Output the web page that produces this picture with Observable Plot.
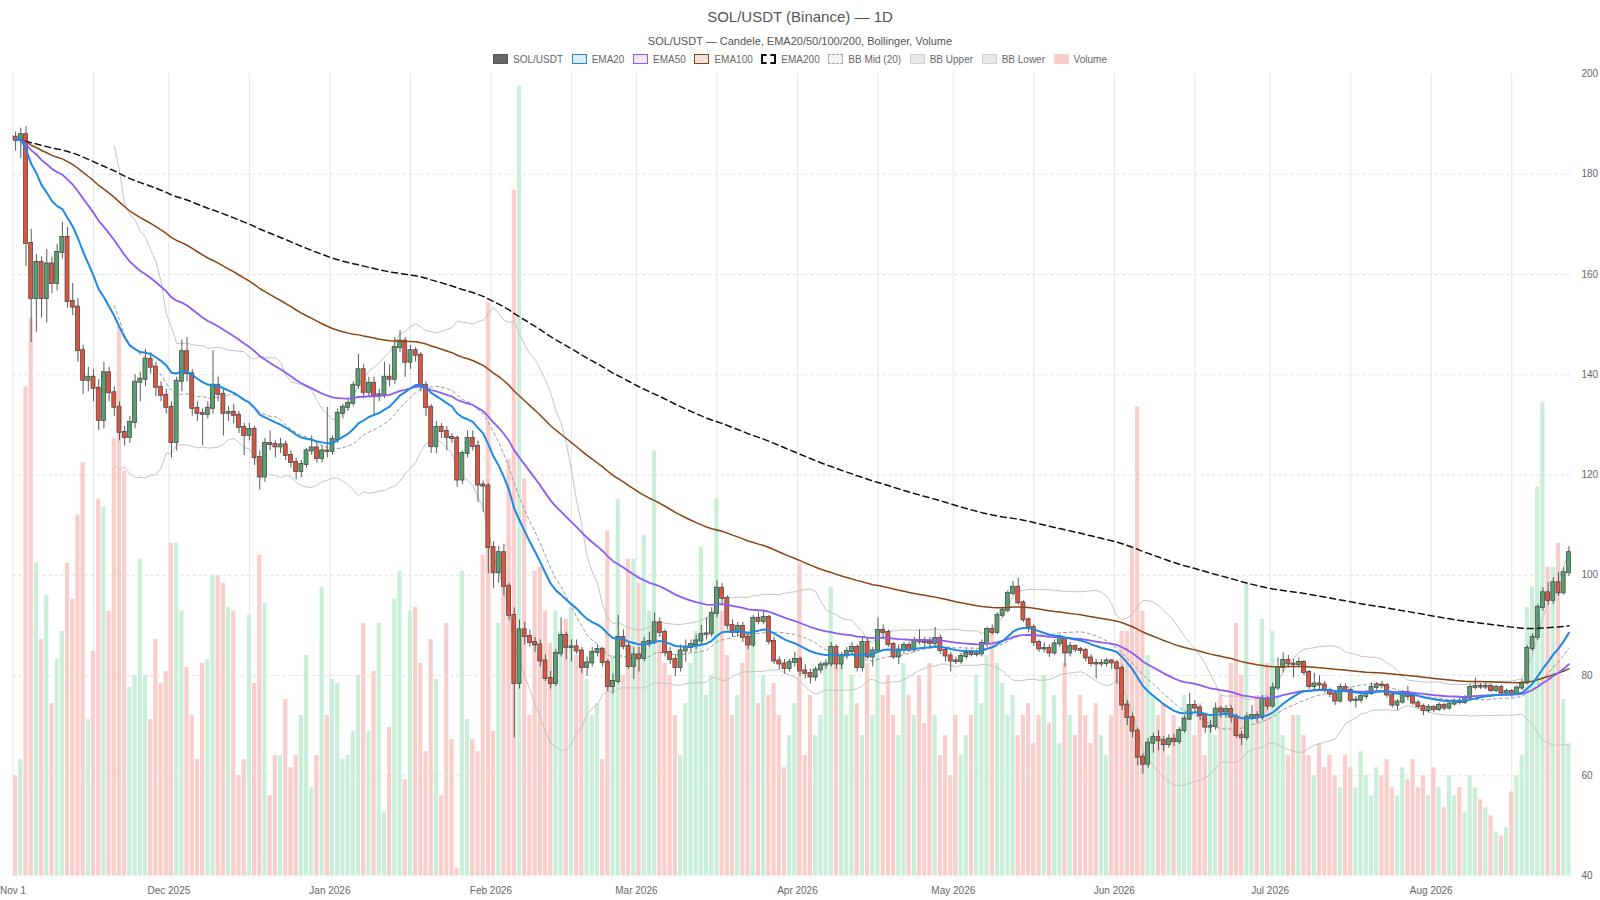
<!DOCTYPE html>
<html><head><meta charset="utf-8">
<script src="https://cdn.jsdelivr.net/npm/d3@7"></script>
<script src="https://cdn.jsdelivr.net/npm/@observablehq/plot@0.6"></script>
<style>
html,body{margin:0;padding:0;background:#fff;}
body{width:1600px;height:900px;position:relative;overflow:hidden;font-family:"Liberation Sans",Arial,Helvetica,sans-serif;}
#title{position:absolute;left:0;top:8px;width:1600px;text-align:center;font-size:15px;line-height:18px;color:#555;}
#subtitle{position:absolute;left:0;top:34px;width:1600px;text-align:center;font-size:11px;line-height:14px;color:#555;}
#legend{position:absolute;left:0;top:52px;width:1600px;height:14px;display:flex;justify-content:center;align-items:center;font-size:10px;color:#666;}
.item{display:flex;align-items:center;margin:0 4.3px;white-space:nowrap;}
.sw{width:15px;height:10px;box-sizing:border-box;margin-right:5px;}
#chart{position:absolute;left:0;top:66px;width:1600px;height:834px;}
#chart svg{position:absolute;left:0;top:0;}
</style></head><body>
<div id="title">SOL/USDT (Binance) — 1D</div>
<div id="subtitle">SOL/USDT — Candele, EMA20/50/100/200, Bollinger, Volume</div>
<div id="legend"></div>
<div id="chart"></div>
<script>
// ---- data: daily candles from 2025-11-01 ----
const startDate = "2025-11-01";
const open = [
187.4,186.8,187.9,166.2,155.2,162.4,155.2,162.1,158.2,164.4,
167.4,154.6,153.5,144.8,138.9,139.5,137.3,130.9,140.4,136.4,
133.5,128.5,127.5,130.5,138.5,139.1,143.1,141.5,137.5,135.9,
133.5,126.5,138.7,144.6,140.2,133.3,132.3,132.1,133.3,137.9,
136.1,132.3,132.5,131.9,129.5,127.9,129.1,123.5,119.6,126.3,
126.1,125.6,126.0,123.9,122.5,120.7,122.1,124.8,125.4,123.3,
124.8,124.7,127.1,132.3,133.5,134.3,137.9,141.0,136.5,138.3,
135.9,136.0,139.5,139.1,145.4,146.7,142.5,144.8,143.9,137.9,
133.5,125.7,129.5,128.7,127.5,127.3,119.0,124.3,127.3,125.7,
118.0,117.8,105.5,100.5,104.5,97.8,92.0,78.4,89.1,87.8,
86.6,86.1,82.9,79.4,78.4,84.4,88.0,85.6,85.7,84.9,
81.6,82.5,84.6,85.2,82.6,77.8,78.8,87.6,85.8,81.8,
84.1,83.4,86.6,86.8,90.5,88.6,84.6,83.2,81.6,84.9,
85.6,86.2,86.9,88.2,88.3,92.4,97.4,95.4,90.0,88.6,
89.8,87.6,86.1,91.4,90.8,91.6,86.8,82.9,82.3,81.4,
82.6,83.2,80.9,80.4,79.7,81.1,82.1,82.3,85.6,82.3,
83.9,84.8,85.6,81.6,86.6,83.7,84.9,89.0,88.6,86.2,
83.7,85.1,86.0,85.1,87.0,86.7,86.6,86.4,87.4,85.0,
83.9,82.9,82.8,83.8,84.4,84.2,84.3,86.4,89.2,88.6,
92.0,93.0,96.4,97.6,94.5,91.1,89.6,86.6,85.3,85.4,
84.5,86.3,87.4,84.5,85.8,85.2,85.0,83.5,82.4,82.3,
82.4,82.9,82.5,81.4,74.1,71.6,68.9,63.7,62.3,66.5,
67.6,67.0,66.2,67.3,66.8,69.0,71.3,74.0,73.5,72.0,
69.7,69.8,73.3,72.7,73.2,71.7,68.0,67.6,71.7,72.0,
71.6,75.2,73.9,77.5,81.6,83.0,82.3,82.2,82.6,80.6,
77.8,78.3,78.1,77.0,76.3,74.9,77.6,77.0,75.0,75.1,
75.8,76.4,77.6,78.1,78.0,76.1,74.1,74.7,76.6,75.8,
74.5,73.8,73.0,73.6,73.2,74.0,73.5,74.3,74.8,74.6,
75.5,77.6,77.8,77.7,77.8,77.0,77.6,76.5,76.8,76.3,
77.5,78.5,85.4,87.6,93.6,96.5,95.0,98.5,96.5,100.5];
const high = [
188.4,189.2,189.5,169.0,164.0,163.5,165.0,163.5,166.0,170.4,
169.4,158.2,155.2,145.9,141.5,141.0,139.0,142.5,141.5,137.6,
134.6,129.7,131.7,140.0,140.5,145.0,144.4,142.5,138.6,137.1,
134.6,139.5,146.9,147.4,141.0,134.6,133.2,134.6,144.8,139.5,
137.1,133.7,134.1,132.7,130.3,130.3,129.7,124.8,127.3,128.8,
126.8,127.3,126.8,124.8,123.4,122.9,125.3,127.8,126.4,125.8,
133.5,127.8,133.2,134.1,135.1,138.6,144.0,142.0,139.5,139.5,
137.1,142.5,142.0,147.4,148.8,147.4,145.9,145.4,144.4,138.6,
134.1,130.7,130.3,129.7,128.3,127.8,124.8,128.8,128.8,126.8,
118.8,118.3,106.7,105.7,106.2,98.4,93.5,91.1,90.6,89.1,
87.6,87.1,84.2,80.8,85.2,91.5,88.6,87.1,87.1,85.6,
83.7,85.6,86.1,85.6,83.2,80.3,92.0,89.1,86.6,85.6,
85.6,87.6,88.6,92.5,91.5,89.1,85.6,84.2,86.1,87.1,
87.1,88.1,90.0,91.5,93.5,98.9,98.4,95.9,91.1,90.6,
90.6,88.6,92.0,92.5,93.0,92.0,87.6,83.7,83.2,83.2,
84.6,83.7,82.2,81.2,81.7,82.7,83.2,86.6,86.1,84.6,
85.6,86.6,86.1,87.6,87.6,85.6,91.5,90.1,89.1,86.6,
86.1,86.6,86.6,87.6,89.1,87.6,87.6,89.6,88.1,85.6,
84.6,83.7,84.4,85.1,85.1,85.1,87.1,89.6,90.1,92.5,
93.5,96.9,98.8,99.4,94.9,91.5,90.1,87.1,86.5,86.1,
87.1,88.1,87.6,86.6,86.1,85.6,85.4,84.2,83.2,83.2,
83.4,83.2,83.0,82.0,75.0,72.5,69.5,64.5,67.5,68.5,
69.0,67.8,68.2,68.3,69.7,72.0,76.5,75.0,74.0,72.5,
71.0,74.5,73.8,74.0,74.0,72.3,68.8,72.5,74.0,72.8,
76.0,75.8,78.5,83.5,84.5,84.0,83.2,83.5,83.0,81.0,
80.5,80.0,78.8,77.5,76.8,78.3,78.3,77.5,75.8,76.5,
77.0,78.5,78.6,78.8,78.4,76.5,75.2,77.0,77.8,76.3,
75.0,74.3,74.2,74.0,74.6,74.4,74.8,75.3,75.5,76.0,
78.2,79.5,78.4,78.5,78.2,78.0,78.0,77.3,77.2,77.9,
79.2,86.0,88.3,94.2,97.5,98.5,99.5,100.5,101.5,105.7];
const low = [
184.6,183.1,161.6,146.4,148.4,151.3,150.3,156.2,156.7,163.1,
153.3,151.8,142.5,136.1,136.6,134.6,128.8,129.2,134.6,131.7,
126.8,125.8,126.3,129.2,134.6,137.6,140.1,135.6,134.6,132.2,
123.4,124.8,136.6,138.6,131.7,130.7,125.8,131.2,132.2,134.6,
127.8,130.7,130.2,128.3,123.9,126.8,121.9,117.0,118.5,124.8,
123.4,124.3,122.9,121.4,119.0,119.5,121.4,123.9,122.4,122.4,
123.4,123.9,126.3,131.2,132.7,133.7,137.1,135.2,135.6,131.7,
134.6,135.2,137.6,138.1,144.4,139.5,141.0,142.5,136.6,131.7,
124.3,124.3,127.3,124.8,126.3,117.5,118.1,123.4,124.8,114.5,
112.5,100.3,97.4,98.4,95.9,91.0,67.5,77.3,86.1,85.6,
84.6,81.7,78.8,77.3,77.8,83.7,83.2,82.7,84.2,80.3,
79.8,81.7,83.7,81.7,76.8,76.3,78.3,85.1,81.2,79.2,
80.7,82.7,85.6,86.1,87.6,83.7,82.2,79.8,80.7,82.7,
84.6,85.1,86.1,87.1,87.6,91.5,94.0,89.1,87.6,87.6,
86.6,85.1,85.6,90.1,90.1,86.1,82.2,81.2,80.3,80.7,
81.7,79.8,79.3,78.3,78.8,80.3,81.2,81.7,81.2,81.2,
83.2,84.2,80.7,80.7,83.2,81.7,84.6,87.6,85.6,83.2,
82.2,84.2,84.6,84.6,86.1,85.6,85.6,85.6,84.2,82.7,
80.7,82.2,82.2,83.2,83.7,83.7,83.7,85.6,88.1,88.1,
91.5,92.5,95.9,94.0,90.6,88.5,85.8,84.6,84.5,83.6,
84.0,85.6,81.7,83.7,84.6,84.2,82.7,81.7,79.3,81.7,
81.7,81.2,78.3,73.0,70.0,67.5,62.0,60.3,61.5,64.5,
65.0,64.8,65.5,65.8,66.2,68.5,71.0,72.5,71.0,68.5,
68.5,69.0,71.5,71.5,70.5,67.5,66.0,67.0,71.0,70.5,
71.0,73.0,73.5,77.0,80.5,81.5,79.5,81.5,80.0,77.2,
77.0,77.2,76.5,75.5,74.0,74.5,76.5,74.5,73.5,74.5,
75.2,76.0,77.0,77.3,75.5,73.5,73.0,74.3,75.0,74.0,
73.2,72.0,72.5,72.6,72.8,73.0,73.1,73.9,74.1,74.2,
75.1,77.1,77.2,77.2,76.6,76.6,76.0,76.0,75.7,76.0,
77.0,78.2,84.8,87.0,92.8,94.0,94.2,95.8,96.0,99.8];
const close = [
186.8,187.9,166.2,155.2,162.4,155.2,162.1,158.2,164.4,167.4,
154.6,153.5,144.8,138.9,139.5,137.3,130.9,140.4,136.4,133.5,
128.5,127.5,130.5,138.5,139.1,143.1,141.5,137.5,135.9,133.5,
126.5,138.7,144.6,140.2,133.3,132.3,132.1,133.3,137.9,136.1,
132.3,132.5,131.9,129.5,127.9,129.1,123.5,119.6,126.3,126.1,
125.6,126.0,123.9,122.5,120.7,122.1,124.8,125.4,123.3,124.8,
124.7,127.1,132.3,133.5,134.3,137.9,141.0,136.5,138.3,135.9,
136.0,139.5,139.1,145.4,146.7,142.5,144.8,143.9,137.9,133.5,
125.7,129.5,128.7,127.5,127.3,119.0,124.3,127.3,125.7,118.0,
117.8,105.5,100.5,104.5,97.8,92.0,78.4,89.1,87.8,86.6,
86.1,82.9,79.4,78.4,84.4,88.0,85.6,85.7,84.9,81.6,
82.5,84.6,85.2,82.6,77.8,78.8,87.6,85.8,81.8,84.1,
83.4,86.6,86.8,90.5,88.6,84.6,83.2,81.6,84.9,85.6,
86.2,86.9,88.2,88.3,92.4,97.4,95.4,90.0,88.6,89.8,
87.6,86.1,91.4,90.8,91.6,86.8,82.9,82.3,81.4,82.6,
83.2,80.9,80.4,79.7,81.1,82.1,82.3,85.6,82.3,83.9,
84.8,85.6,81.6,86.6,83.7,84.9,89.0,88.6,86.2,83.7,
85.1,86.0,85.1,87.0,86.7,86.6,86.4,87.4,85.0,83.9,
82.9,82.8,83.8,84.4,84.2,84.3,86.4,89.2,88.6,92.0,
93.0,96.4,97.6,94.5,91.1,89.6,86.6,85.3,85.4,84.5,
86.3,87.4,84.5,85.8,85.2,85.0,83.5,82.4,82.3,82.4,
82.9,82.5,81.4,74.1,71.6,68.9,63.7,62.3,66.5,67.6,
67.0,66.2,67.3,66.8,69.0,71.3,74.0,73.5,72.0,69.7,
69.8,73.3,72.7,73.2,71.7,68.0,67.6,71.7,72.0,71.6,
75.2,73.9,77.5,81.6,83.0,82.3,82.2,82.6,80.6,77.8,
78.3,78.1,77.0,76.3,74.9,77.6,77.0,75.0,75.1,75.8,
76.4,77.6,78.1,78.0,76.1,74.1,74.7,76.6,75.8,74.5,
73.8,73.0,73.6,73.2,74.0,73.5,74.3,74.8,74.6,75.5,
77.6,77.8,77.7,77.8,77.0,77.6,76.5,76.8,76.3,77.5,
78.5,85.4,87.6,93.6,96.5,95.0,98.5,96.5,100.5,104.5];
const volume = [
25,29,122,139,78,59,70,43,54,61,
78,69,90,103,39,56,94,92,66,109,
137,101,47,50,79,50,39,59,48,51,
83,83,66,52,40,29,53,54,75,75,
73,67,66,25,29,65,48,80,68,20,
30,30,44,27,30,40,55,22,30,72,
40,49,48,29,30,36,50,63,36,51,
63,16,37,69,76,24,66,67,53,31,
59,49,20,63,34,2,76,39,34,31,
80,143,36,63,73,104,171,197,99,40,
76,77,66,58,66,61,64,67,55,53,
49,40,43,29,86,55,94,50,79,79,
73,85,66,106,58,53,50,40,30,43,
53,61,82,45,50,94,66,55,40,45,
53,61,63,43,50,45,48,40,27,35,
43,78,30,45,35,40,53,72,53,55,
40,50,43,35,53,40,55,45,50,40,
35,53,45,40,50,38,53,40,30,35,
25,40,30,35,40,50,43,55,61,53,
48,40,45,35,40,43,33,40,50,38,
45,33,53,40,35,45,40,33,43,35,
30,40,53,61,61,82,117,66,55,45,
40,43,30,40,35,45,40,35,43,30,
40,35,45,40,53,63,50,73,40,45,
64,53,61,45,35,30,40,40,35,30,
25,33,27,30,25,22,30,27,22,31,
25,20,27,25,29,22,20,27,24,29,
22,25,20,27,22,17,25,20,22,16,
25,22,19,17,15,11,10,12,21,25,
30,67,72,97,118,77,77,83,44,33];
const priceTicks = [40,60,80,100,120,140,160,180,200];
const volumeDomain = [0, 200];

// ---- legend ----
const legendItems = [
  ["SOL/USDT","background:#666;border:1px solid #555"],
  ["EMA20","background:rgba(30,136,229,0.15);border:1.5px solid #1e88e5"],
  ["EMA50","background:rgba(139,92,246,0.15);border:1.5px solid #8b5cf6"],
  ["EMA100","background:rgba(139,69,19,0.15);border:1.5px solid #8b4513"],
  ["EMA200","background:#fff;border:2px dashed #111"],
  ["BB Mid (20)","background:#f4f4f4;border:1px dashed #aaa"],
  ["BB Upper","background:#e8e8e8;border:1px solid #d0d0d0"],
  ["BB Lower","background:#e8e8e8;border:1px solid #d0d0d0"],
  ["Volume","background:#f8cdca"]
];
document.getElementById("legend").innerHTML = legendItems.map(([t,s]) =>
  `<div class="item"><div class="sw" style="${s}"></div><span>${t}</span></div>`).join("");

// ---- derived table ----
const DAY = 864e5;
const T0 = Date.parse(startDate + "T00:00:00Z");
const N = close.length;
const rows = close.map((c, i) => {
  const t = T0 + i * DAY;
  return {t: new Date(t + DAY / 2), a: new Date(t + 0.12 * DAY), b: new Date(t + 0.88 * DAY),
          va: new Date(t + 0.1 * DAY), vb: new Date(t + 0.9 * DAY),
          o: open[i], h: high[i], l: low[i], c, v: volume[i], up: c >= open[i]};
});
function ema(n) {
  const k = 2 / (n + 1); let e = null;
  return close.map((c, i) => ({t: rows[i].t, y: (e = e === null ? c : c * k + e * (1 - k))}));
}
const bb = [];
for (let i = 19; i < N; i++) {
  const w = close.slice(i - 19, i + 1);
  const m = d3.mean(w);
  const sd = Math.sqrt(d3.mean(w, x => (x - m) ** 2));
  bb.push({t: rows[i].t, mid: m, up: m + 2 * sd, lo: m - 2 * sd});
}
const xDomain = [new Date(T0), new Date(T0 + N * DAY)];
const monthTicks = d3.utcMonth.range(xDomain[0], xDomain[1]);
const midTicks = monthTicks.map(d => new Date(+d + 15.5 * DAY)).filter(d => d < xDomain[1]);
const fmt = d3.utcFormat("%b %Y");

const common = {width: 1600, height: 834, marginTop: 7.5, marginBottom: 24.5, marginLeft: 12.5, marginRight: 29,
  style: {background: "transparent", fontFamily: "Liberation Sans, Arial, sans-serif", fontSize: "10px", color: "#666", overflow: "visible"}};

const volPlot = Plot.plot({...common,
  x: {type: "utc", domain: xDomain, axis: null},
  y: {domain: volumeDomain, axis: null},
  marks: [
    Plot.ruleX([...monthTicks, ...midTicks], {stroke: "#e6e6e6", strokeWidth: 1}),
    Plot.rect(rows.filter(d => d.up), {x1: "va", x2: "vb", y1: 0, y2: "v", fill: "#c9eed9"}),
    Plot.rect(rows.filter(d => !d.up), {x1: "va", x2: "vb", y1: 0, y2: "v", fill: "#f8cdca"})
  ]});

const pricePlot = Plot.plot({...common,
  x: {type: "utc", domain: xDomain},
  y: {domain: [40, 200]},
  marks: [
    Plot.ruleY(priceTicks.slice(1, -1), {stroke: "#e0e0e0", strokeDasharray: "3,3"}),
    Plot.axisX({ticks: monthTicks, tickSize: 0, tickPadding: 11, label: null, fill: "#666",
      tickFormat: d => (+d === T0 ? "Nov 1" : fmt(d))}),
    Plot.axisY({anchor: "right", ticks: priceTicks, tickSize: 0, tickPadding: 10, label: null, fill: "#666"}),
    Plot.line(bb, {x: "t", y: "up", stroke: "#c4c4c4", strokeWidth: 1}),
    Plot.line(bb, {x: "t", y: "lo", stroke: "#c4c4c4", strokeWidth: 1}),
    Plot.line(bb, {x: "t", y: "mid", stroke: "#999", strokeWidth: 1, strokeDasharray: "3,3"}),
    Plot.ruleX(rows, {x: "t", y1: "l", y2: "h", stroke: "#5a5a5a", strokeWidth: 1}),
    Plot.rect(rows.filter(d => d.up), {x1: "a", x2: "b", y1: "o", y2: "c", fill: "#56a16f", stroke: "#4a4a4a", strokeWidth: 0.8, insetTop: -0.5, insetBottom: -0.5}),
    Plot.rect(rows.filter(d => !d.up), {x1: "a", x2: "b", y1: "o", y2: "c", fill: "#e0543f", stroke: "#4a4a4a", strokeWidth: 0.8, insetTop: -0.5, insetBottom: -0.5}),
    Plot.line(ema(200), {x: "t", y: "y", stroke: "#111", strokeWidth: 1.5, strokeDasharray: "6,4"}),
    Plot.line(ema(100), {x: "t", y: "y", stroke: "#8b4513", strokeWidth: 1.5}),
    Plot.line(ema(50), {x: "t", y: "y", stroke: "#8b5cf6", strokeWidth: 1.8}),
    Plot.line(ema(20), {x: "t", y: "y", stroke: "#1e88e5", strokeWidth: 2})
  ]});

const chart = document.getElementById("chart");
chart.append(volPlot, pricePlot);
</script>
</body></html>
